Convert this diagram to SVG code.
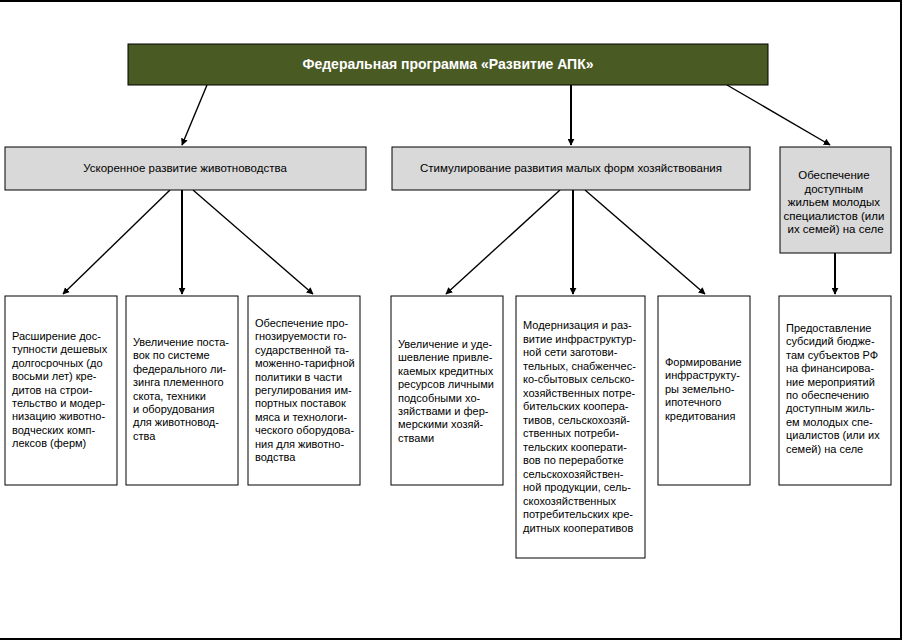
<svg xmlns="http://www.w3.org/2000/svg" width="903" height="640" viewBox="0 0 903 640">
<defs>
<marker id="ah" viewBox="0 0 10 10" refX="9" refY="5" markerWidth="7" markerHeight="7" markerUnits="userSpaceOnUse" orient="auto">
<path d="M0,0 L10,5 L0,10 z" fill="#000"/>
</marker>
<style>
.frame{fill:none;stroke:#000;stroke-width:2}
.top{fill:#4a5a23;stroke:#000;stroke-width:1}
.mid{fill:#d9d9d9;stroke:#000;stroke-width:1}
.box{fill:#fff;stroke:#000;stroke-width:1}
.c{stroke:#000;stroke-width:1.4;fill:none;marker-end:url(#ah)}
.v{stroke-width:2}
.tt{font-family:"Liberation Sans",Arial,sans-serif;font-size:14px;font-weight:bold;fill:#fff;text-anchor:middle}
.mt{font-family:"Liberation Sans",Arial,sans-serif;font-size:11.5px;fill:#000;text-anchor:middle}
.bt{font-family:"Liberation Sans",Arial,sans-serif;font-size:11px;fill:#000}
</style>
</defs>
<rect width="903" height="640" fill="#fff"/>
<path class="frame" d="M0,1 H901 V639 H0"/>

<g id="connectors">
<line class="c" x1="207" y1="85" x2="182" y2="145"/>
<line class="c v" x1="571" y1="85" x2="571" y2="145"/>
<line class="c" x1="727" y1="85" x2="830" y2="145"/>
<line class="c" x1="170" y1="190" x2="63" y2="294"/>
<line class="c v" x1="182" y1="190" x2="182" y2="294"/>
<line class="c" x1="193" y1="190" x2="313" y2="294"/>
<line class="c" x1="560" y1="190" x2="446" y2="294"/>
<line class="c v" x1="573" y1="190" x2="573" y2="294"/>
<line class="c" x1="585" y1="190" x2="705" y2="294"/>
<line class="c v" x1="835" y1="253" x2="835" y2="294"/>
</g>

<g id="n-top">
<rect class="top" x="128" y="44" width="640" height="41"/>
<text class="tt" x="448" y="69">Федеральная программа «Развитие АПК»</text>
</g>

<g id="n-mid1">
<rect class="mid" x="5" y="147" width="361" height="43"/>
<text class="mt" x="185" y="172">Ускоренное развитие животноводства</text>
</g>
<g id="n-mid2">
<rect class="mid" x="392" y="147" width="358" height="43"/>
<text class="mt" x="571" y="172">Стимулирование развития малых форм хозяйствования</text>
</g>
<g id="n-mid3">
<rect class="mid" x="780" y="147" width="111" height="106"/>
<text class="mt" x="835.5">
<tspan x="835.5" y="179">Обеспечение</tspan>
<tspan x="835.5" y="192.5">доступным</tspan>
<tspan x="835.5" y="206">жильем молодых</tspan>
<tspan x="835.5" y="219.5">специалистов (или</tspan>
<tspan x="835.5" y="233">их семей) на селе</tspan>
</text>
</g>

<g id="n-b1">
<rect class="box" x="5" y="296" width="112" height="189"/>
<text class="bt">
<tspan x="12" y="340">Расширение дос-</tspan>
<tspan x="12" y="353.4">тупности дешевых</tspan>
<tspan x="12" y="366.8">долгосрочных (до</tspan>
<tspan x="12" y="380.2">восьми лет) кре-</tspan>
<tspan x="12" y="393.6">дитов на строи-</tspan>
<tspan x="12" y="407">тельство и модер-</tspan>
<tspan x="12" y="420.4">низацию животно-</tspan>
<tspan x="12" y="433.8">водческих комп-</tspan>
<tspan x="12" y="447.2">лексов (ферм)</tspan>
</text>
</g>
<g id="n-b2">
<rect class="box" x="126" y="296" width="112" height="189"/>
<text class="bt">
<tspan x="133" y="346">Увеличение поста-</tspan>
<tspan x="133" y="359.4">вок по системе</tspan>
<tspan x="133" y="372.8">федерального ли-</tspan>
<tspan x="133" y="386.2">зинга племенного</tspan>
<tspan x="133" y="399.6">скота, техники</tspan>
<tspan x="133" y="413">и оборудования</tspan>
<tspan x="133" y="426.4">для животновод-</tspan>
<tspan x="133" y="439.8">ства</tspan>
</text>
</g>
<g id="n-b3">
<rect class="box" x="248" y="296" width="112" height="189"/>
<text class="bt">
<tspan x="255" y="327">Обеспечение про-</tspan>
<tspan x="255" y="340.4">гнозируемости го-</tspan>
<tspan x="255" y="353.8">сударственной та-</tspan>
<tspan x="255" y="367.2">моженно-тарифной</tspan>
<tspan x="255" y="380.6">политики в части</tspan>
<tspan x="255" y="394">регулирования им-</tspan>
<tspan x="255" y="407.4">портных поставок</tspan>
<tspan x="255" y="420.8">мяса и технологи-</tspan>
<tspan x="255" y="434.2">ческого оборудова-</tspan>
<tspan x="255" y="447.6">ния для животно-</tspan>
<tspan x="255" y="461">водства</tspan>
</text>
</g>
<g id="n-b4">
<rect class="box" x="391" y="296" width="112" height="189"/>
<text class="bt">
<tspan x="398" y="348">Увеличение и уде-</tspan>
<tspan x="398" y="361.4">шевление привле-</tspan>
<tspan x="398" y="374.8">каемых кредитных</tspan>
<tspan x="398" y="388.2">ресурсов личными</tspan>
<tspan x="398" y="401.6">подсобными хо-</tspan>
<tspan x="398" y="415">зяйствами и фер-</tspan>
<tspan x="398" y="428.4">мерскими хозяй-</tspan>
<tspan x="398" y="441.8">ствами</tspan>
</text>
</g>
<g id="n-b5">
<rect class="box" x="516" y="296" width="129" height="262"/>
<text class="bt">
<tspan x="523" y="329">Модернизация и раз-</tspan>
<tspan x="523" y="342.5">витие инфраструктур-</tspan>
<tspan x="523" y="356">ной сети заготови-</tspan>
<tspan x="523" y="369.5">тельных, снабженчес-</tspan>
<tspan x="523" y="383">ко-сбытовых сельско-</tspan>
<tspan x="523" y="396.5">хозяйственных потре-</tspan>
<tspan x="523" y="410">бительских коопера-</tspan>
<tspan x="523" y="423.5">тивов, сельскохозяй-</tspan>
<tspan x="523" y="437">ственных потреби-</tspan>
<tspan x="523" y="450.5">тельских кооперати-</tspan>
<tspan x="523" y="464">вов по переработке</tspan>
<tspan x="523" y="477.5">сельскохозяйствен-</tspan>
<tspan x="523" y="491">ной продукции, сель-</tspan>
<tspan x="523" y="504.5">скохозяйственных</tspan>
<tspan x="523" y="518">потребительских кре-</tspan>
<tspan x="523" y="531.5">дитных кооперативов</tspan>
</text>
</g>
<g id="n-b6">
<rect class="box" x="658" y="296" width="92" height="189"/>
<text class="bt">
<tspan x="665" y="366">Формирование</tspan>
<tspan x="665" y="379.4">инфраструкту-</tspan>
<tspan x="665" y="392.8">ры земельно-</tspan>
<tspan x="665" y="406.2">ипотечного</tspan>
<tspan x="665" y="419.6">кредитования</tspan>
</text>
</g>
<g id="n-b7">
<rect class="box" x="779" y="296" width="112" height="189"/>
<text class="bt">
<tspan x="786" y="332">Предоставление</tspan>
<tspan x="786" y="345.4">субсидий бюдже-</tspan>
<tspan x="786" y="358.8">там субъектов РФ</tspan>
<tspan x="786" y="372.2">на финансирова-</tspan>
<tspan x="786" y="385.6">ние мероприятий</tspan>
<tspan x="786" y="399">по обеспечению</tspan>
<tspan x="786" y="412.4">доступным жиль-</tspan>
<tspan x="786" y="425.8">ем молодых спе-</tspan>
<tspan x="786" y="439.2">циалистов (или их</tspan>
<tspan x="786" y="452.6">семей) на селе</tspan>
</text>
</g>
</svg>
